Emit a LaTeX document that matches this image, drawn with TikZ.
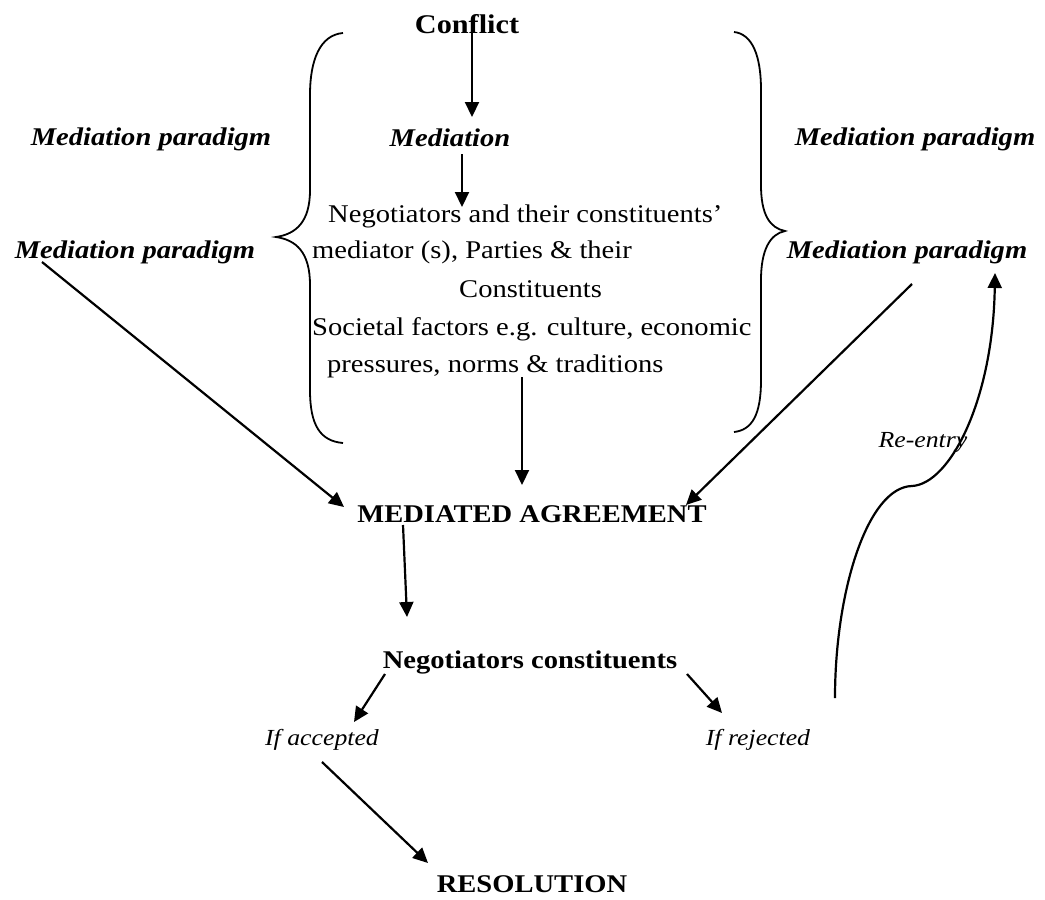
\documentclass[tikz,border=0pt]{standalone}
\usepackage{fontspec}
\setmainfont{Liberation Serif}[FakeStretch=1.12]
\usetikzlibrary{arrows.meta,calc}
\tikzset{
  base/.style={inner sep=0pt, anchor=base, font=\fontsize{25.5}{30}\selectfont},
  txt/.style={base, anchor=base west},
  btxt/.style={base, font=\fontsize{25.5}{30}\selectfont\bfseries},
  bigbtxt/.style={base, font=\fontsize{27}{32}\selectfont\bfseries},
  bitxt/.style={base, font=\fontsize{25.5}{30}\selectfont\bfseries\itshape},
  itxt/.style={base, font=\fontsize{23}{28}\selectfont\itshape},
  arr/.style={line width=2.2pt, -{Triangle[length=15pt,width=14pt]}},
  bracel/.style={line width=1.8pt},
  curvel/.style={line width=2.2pt, -{Triangle[length=15pt,width=14pt]}}
}
\begin{document}
\begin{tikzpicture}[x=1pt,y=-1pt]
\useasboundingbox (0,0) rectangle (1045,900);

% nodes
\node[bigbtxt] (conflict) at (467,33) {Conflict};
\node[bitxt] (mediation) at (450,146) {Mediation};
\node[bitxt] (mpTL) at (151,145) {Mediation paradigm};
\node[bitxt] (mpLL) at (135,258) {Mediation paradigm};
\node[bitxt] (mpTR) at (915,145) {Mediation paradigm};
\node[bitxt] (mpLR) at (907,258) {Mediation paradigm};
\node[txt] (l1) at (328,222) {Negotiators and their constituents’};
\node[txt] (l2) at (312,258) {mediator (s), Parties \& their};
\node[txt] (l3) at (459,297) {Constituents};
\node[txt] (l4) at (312,335) {Societal factors e.g. culture, economic};
\node[txt] (l5) at (327,372) {pressures, norms \& traditions};
\node[btxt] (ma) at (532,522) {MEDIATED AGREEMENT};
\node[btxt] (nc) at (530,668) {Negotiators constituents};
\node[itxt] (acc) at (322,745) {If accepted};
\node[itxt] (rej) at (758,745) {If rejected};
\node[btxt] (res) at (532,892) {RESOLUTION};
\node[itxt] (reentry) at (923,447) {Re-entry};
\coordinate (reS) at (835,698);

% braces
\draw[bracel] (343,33) .. controls (320,35) and (310,60) .. (310,95)
  -- (310,190) .. controls (310,222) and (296,234) .. (276,237)
  .. controls (296,240) and (310,252) .. (310,285)
  -- (310,390) .. controls (310,425) and (320,441) .. (343,443);
\draw[bracel] (734,32) .. controls (752,34) and (761,55) .. (761,90)
  -- (761,185) .. controls (761,215) and (770,228) .. (785,231)
  .. controls (770,234) and (761,250) .. (761,280)
  -- (761,380) .. controls (761,415) and (752,430) .. (734,432);

% connectors
\draw[arr] ($(conflict.base)+(5,-3)$) -- ($(mediation.base)+(22,-29)$);
\draw[arr] ($(mediation.base)+(12,8)$) -- ($(l1.base west)+(134,-15)$);
\draw[arr] ($(l5.base west)+(195,5)$) -- ($(ma.base)+(-10,-37)$);
\draw[arr] ($(mpLL.base)+(-93,4)$) -- ($(ma.base)+(-188,-15)$);
\draw[arr] ($(mpLR.base)+(5,26)$) -- ($(ma.base)+(154,-17)$);
\draw[arr] ($(ma.base)+(-129,3)$) -- ($(nc.base)+(-123,-51)$);
\draw[arr] ($(nc.base)+(-145,6)$) -- ($(acc.base)+(32,-23)$);
\draw[arr] ($(nc.base)+(157,6)$) -- ($(rej.base)+(-36,-32)$);
\draw[arr] ($(acc.base)+(0,17)$) -- ($(res.base)+(-104,-29)$);
\draw[curvel] (reS) .. controls (835,590) and (868,487) .. (912,486)
  .. controls (950,484) and (993,400) .. ($(mpLR.base)+(88,15)$);
\end{tikzpicture}
\end{document}
